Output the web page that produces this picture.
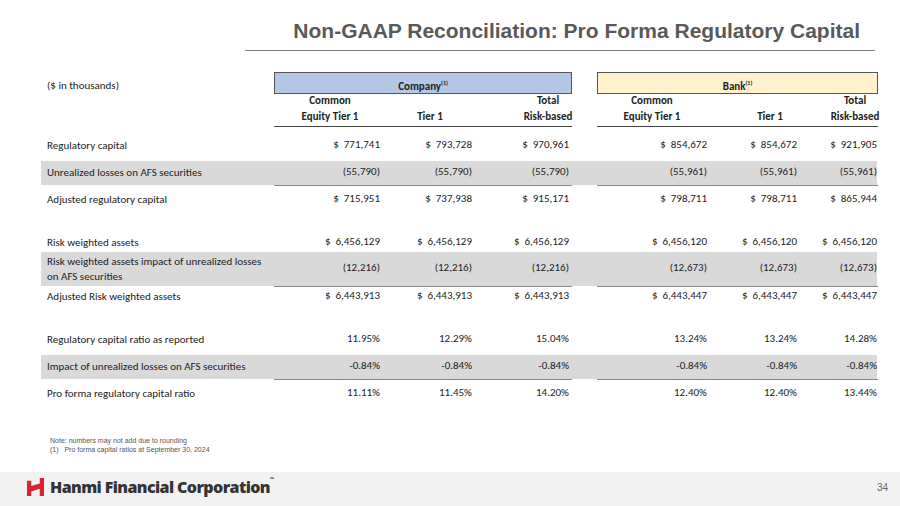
<!DOCTYPE html>
<html><head><meta charset="utf-8">
<script src="https://cdn.jsdelivr.net/npm/chart.js@4"></script>
<style>
body{margin:0;width:900px;height:506px;position:relative;background:#fff;font-family:Carlito,Calibri,Lato,sans-serif;overflow:hidden;color:#222}
.a{position:absolute;white-space:nowrap}
.t{font-family:"Liberation Sans",Arial,sans-serif;font-weight:bold;font-size:21px;color:#595959;right:40px;top:19px}
.c{font-size:11px}
.b{font-weight:bold}
</style></head><body>
<div class="a t">Non-GAAP Reconciliation: Pro Forma Regulatory Capital</div>
<div class="a" style="left:245px;top:50px;width:630px;height:1px;background:#7f7f7f"></div>
<div id="tbl"></div>
<div class="a" style="left:50px;top:436px;font-family:'Liberation Sans',Arial;font-size:7px;color:#555;line-height:9px">Note: numbers may not add due to rounding<br>(1)&nbsp;&nbsp;&nbsp;Pro forma capital ratios at September 30, 2024</div>
<div class="a" style="left:0;top:472px;width:900px;height:34px;background:#f2f2f2"></div>
<div class="a" style="left:27px;top:478px;width:17px;height:18px;background:#d9232e;clip-path:polygon(0 15%,25% 15%,25% 45%,75% 30%,75% 0,100% 0,100% 100%,75% 100%,75% 60%,25% 75%,25% 100%,0 100%)"></div>
<div class="a" style="left:50px;top:476px;font-family:'Open Sans';font-weight:800;font-size:16px;color:#333;letter-spacing:-0.6px">Hanmi Financial Corporation<span style="font-size:5px;vertical-align:top">™</span></div>
<div class="a" style="right:12px;top:482px;font-family:'Liberation Sans';font-size:10px;color:#666">34</div>
<script>
const rowLabels = ["Regulatory capital","Unrealized losses on AFS securities","Adjusted regulatory capital","Risk weighted assets","Risk weighted assets impact of unrealized losses<br>on AFS securities","Adjusted Risk weighted assets","Regulatory capital ratio as reported","Impact of unrealized losses on AFS securities","Pro forma regulatory capital ratio"];
const colHeads = [["Common","Equity Tier 1"],["","Tier 1"],["Total","Risk-based"]];
const companyValues = [["771,741","793,728","970,961"],["(55,790)","(55,790)","(55,790)"],["715,951","737,938","915,171"],["6,456,129","6,456,129","6,456,129"],["(12,216)","(12,216)","(12,216)"],["6,443,913","6,443,913","6,443,913"],["11.95%","12.29%","15.04%"],["-0.84%","-0.84%","-0.84%"],["11.11%","11.45%","14.20%"]];
const bankValues = [["854,672","854,672","921,905"],["(55,961)","(55,961)","(55,961)"],["798,711","798,711","865,944"],["6,456,120","6,456,120","6,456,120"],["(12,673)","(12,673)","(12,673)"],["6,443,447","6,443,447","6,443,447"],["13.24%","13.24%","14.28%"],["-0.84%","-0.84%","-0.84%"],["12.40%","12.40%","13.44%"]];
const dollarRows = [0,2,3,5];
const greyRows = [1,4,7];

const rowY = [146,173,200,243,269,297,340,367,394];
const groups = [{x:274,w:296,name:"Company",bg:"#b4c7e7",vals:companyValues,right:[380,472,569],hc:[330,430,548]},
                {x:597,w:279,name:"Bank",bg:"#fff2cc",vals:bankValues,right:[707,797,877],hc:[652,770,855]}];
let h = '';
const add = (s)=>{h+=s;};
add(`<div class="a c" style="left:47px;top:79px">($ in thousands)</div>`);
greyRows.forEach(r=>{
  const hh = r===4?34:24;
  add(`<div class="a" style="left:41px;top:${rowY[r]-hh/2}px;width:836px;height:${hh}px;background:#d9d9d9"></div>`);
});
groups.forEach(g=>{
  add(`<div class="a c b" style="left:${g.x}px;top:72px;width:${g.w}px;height:20px;line-height:20px;text-align:center;background:${g.bg};border:1px solid #555">${g.name}<sup style="font-size:6px">(1)</sup></div>`);
  add(`<div class="a" style="left:${g.x}px;top:126px;width:${g.w+2}px;height:1px;background:#444"></div>`);
  colHeads.forEach((ch,i)=>{
    add(`<div class="a c b" style="left:${g.hc[i]-50}px;top:93px;width:100px;text-align:center;line-height:16px">${ch[0]||'&nbsp;'}<br>${ch[1]}</div>`);
  });
  greyRows.forEach(r=>{
    const hh = r===4?34:24;
    add(`<div class="a" style="left:${g.x}px;top:${rowY[r]+hh/2}px;width:${g.w+2}px;height:1px;background:#888"></div>`);
  });
  g.vals.forEach((row,r)=>{
    row.forEach((v,i)=>{
      const txt = dollarRows.includes(r) ? '$&nbsp;&nbsp;' + v : v;
      add(`<div class="a c" style="right:${900-g.right[i]}px;top:${rowY[r]-8}px">${txt}</div>`);
    });
  });
});
rowLabels.forEach((l,r)=>{
  const top = r===4?rowY[r]-15:rowY[r]-8;
  add(`<div class="a c" style="left:47px;top:${top}px;line-height:15px">${l}</div>`);
});
document.getElementById('tbl').innerHTML = h;
</script>
</body></html>
